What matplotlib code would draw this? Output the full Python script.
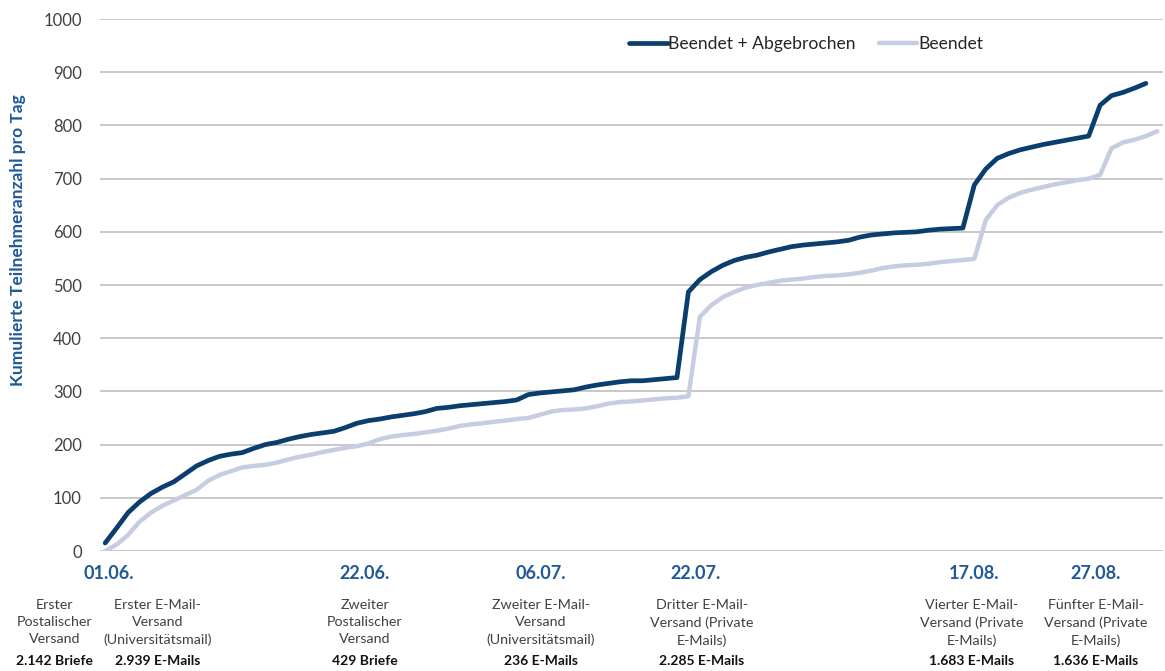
import numpy as np
import matplotlib
matplotlib.use("Agg")
import matplotlib.pyplot as plt
from matplotlib.transforms import blended_transform_factory

plt.rcParams['font.family'] = ['Lato', 'DejaVu Sans']

# cumulated participants per day, one value per day starting 01.06.
beendet_abgebrochen = [
    15, 43, 72, 92, 108, 120, 130, 145, 160, 170,
    178, 182, 185, 193, 200, 204, 210, 215, 219, 222,
    225, 232, 240, 245, 248, 252, 255, 258, 262, 268,
    270, 273, 275, 277, 279, 281, 284, 294, 297, 299,
    301, 303, 308, 312, 315, 318, 320, 320, 322, 324,
    326, 487, 510, 525, 537, 546, 552, 556, 562, 567,
    572, 575, 577, 579, 581, 584, 590, 594, 596, 598,
    599, 600, 603, 605, 606, 607, 688, 718, 738, 747,
    754, 759, 764, 768, 772, 776, 780, 838, 856, 862,
    870, 879,
]
beendet = [
    0, 12, 30, 55, 72, 85, 95, 105, 115, 132,
    143, 150, 157, 160, 162, 166, 172, 177, 181, 186,
    190, 194, 197, 202, 210, 215, 218, 220, 223, 226,
    230, 235, 238, 240, 243, 245, 248, 250, 256, 262,
    265, 266, 268, 272, 277, 280, 281, 283, 285, 287,
    288, 291, 440, 462, 477, 487, 495, 500, 504, 508,
    510, 512, 515, 517, 518, 520, 523, 527, 532, 535,
    537, 538, 540, 543, 545, 547, 549, 622, 650, 664,
    673, 679, 684, 689, 693, 697, 700, 707, 757, 768,
    773, 780, 789,
]

date_labels = ["01.06.", "22.06.", "06.07.", "22.07.", "17.08.", "27.08."]
date_pos = [0.3, 22.7, 38.1, 51.6, 76.0, 86.6]

note_pos = [-4.4, 4.6, 22.7, 38.1, 52.2, 75.8, 86.6]
note_text = [
    "Erster\nPostalischer\nVersand",
    "Erster E-Mail-\nVersand\n(Universitätsmail)",
    "Zweiter\nPostalischer\nVersand",
    "Zweiter E-Mail-\nVersand\n(Universitätsmail)",
    "Dritter E-Mail-\nVersand (Private\nE-Mails)",
    "Vierter E-Mail-\nVersand (Private\nE-Mails)",
    "Fünfter E-Mail-\nVersand (Private\nE-Mails)",
]
note_count = ["2.142 Briefe", "2.939 E-Mails", "429 Briefe", "236 E-Mails",
              "2.285 E-Mails", "1.683 E-Mails", "1.636 E-Mails"]

dark = "#0B3D6E"
light = "#C7CDE1"
blue = "#1F5A96"

W, H = 1165, 671
fig = plt.figure(figsize=(W / 100, H / 100), dpi=100)
ax = fig.add_axes([100 / W, 1 - 551 / H, (1163 - 100) / W, (551 - 19) / H])

ax.plot(np.arange(len(beendet_abgebrochen)), beendet_abgebrochen, color=dark,
        lw=3.4, solid_joinstyle="round", solid_capstyle="round",
        label="Beendet + Abgebrochen", zorder=3)
ax.plot(np.arange(len(beendet)), beendet, color=light, lw=3.2,
        solid_joinstyle="round", solid_capstyle="round",
        label="Beendet", zorder=2)

ax.set_xlim(-0.45, 92.5)
ax.set_ylim(0, 1000)
ax.set_yticks(range(0, 1001, 100))
ax.yaxis.grid(True, color="#BFBFBF", lw=1.2)
ax.set_axisbelow(True)
for s in ax.spines.values():
    s.set_visible(False)
ax.tick_params(axis="y", length=0, pad=13, labelsize=12, labelcolor="#404040")

ax.set_xticks(date_pos)
ax.set_xticklabels(date_labels, fontsize=13, fontweight="bold", color=blue)
ax.tick_params(axis="x", length=0, pad=10)

tr = blended_transform_factory(ax.transData, fig.transFigure)
for p, t, c in zip(note_pos, note_text, note_count):
    ax.text(p, 1 - 599 / H, t, transform=tr, ha="center", va="top",
            fontsize=10.3, color="#404040", linespacing=1.5, clip_on=False)
    ax.text(p, 1 - 661 / H, c, transform=tr, ha="center", va="center",
            fontsize=10, fontweight="bold", color="#111111", clip_on=False)

fig.text(18 / W, 1 - 240 / H, "Kumulierte Teilnehmeranzahl pro Tag",
         rotation=90, ha="center", va="center", fontsize=12.5,
         fontweight="bold", color=blue)

ax.legend(loc="center", bbox_to_anchor=(806 / W, 1 - 44 / H),
          bbox_transform=fig.transFigure, ncol=2, frameon=False,
          fontsize=12.6, handlelength=2.2, handletextpad=0.05,
          columnspacing=1.3, labelcolor="#262626")

fig.savefig("out.png", dpi=100)
